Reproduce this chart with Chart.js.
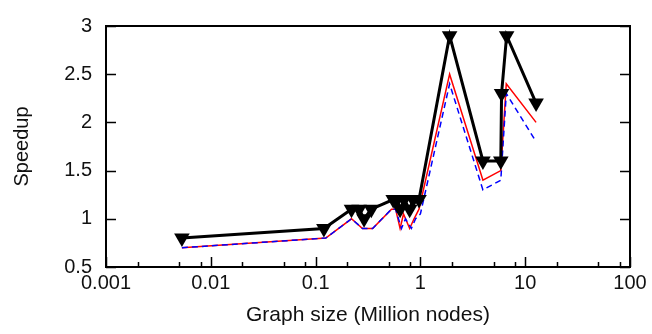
<!DOCTYPE html>
<html>
<head>
<meta charset="utf-8">
<script src="https://cdn.jsdelivr.net/npm/chart.js@4.4.1/dist/chart.umd.min.js"></script>
<style>
  html, body { margin: 0; padding: 0; background: #fff; }
</style>
</head>
<body>
<canvas id="speedup-chart" width="652" height="334"></canvas>
<script>
// graph sizes (million nodes) and speedups
const blackSizes = [0.0053, 0.12, 0.22, 0.26, 0.29, 0.34, 0.55, 0.6, 0.64, 0.7, 0.79, 0.85, 0.97, 1.9, 3.95, 5.85, 5.95, 6.65, 12.7]
const blackSpeedup = [0.8, 0.9, 1.1, 1.1, 1.0, 1.1, 1.2, 1.2, 1.1, 1.2, 1.1, 1.2, 1.2, 2.9, 1.6, 1.6, 2.3, 2.9, 2.2]

const redSizes = [0.0053, 0.125, 0.22, 0.28, 0.35, 0.53, 0.58, 0.64, 0.69, 0.79, 0.87, 0.97, 1.9, 3.95, 5.85, 6.6, 12.7]
const redSpeedup = [0.7, 0.8, 1.0, 0.9, 0.9, 1.1, 1.1, 0.9, 1.05, 0.9, 1.0, 1.1, 2.5, 1.4, 1.5, 2.4, 2.0]

const blueSizes = [0.0053, 0.125, 0.22, 0.28, 0.35, 0.53, 0.58, 0.66, 0.72, 0.82, 0.9, 1.0, 1.9, 3.95, 5.85, 6.6, 12.7]
const blueSpeedup = [0.7, 0.8, 1.0, 0.9, 0.9, 1.1, 1.1, 0.9, 1.0, 0.9, 1.0, 1.05, 2.4, 1.3, 1.4, 2.3, 1.8]

const xTicks = [0.001, 0.01, 0.1, 1, 10, 100]
const xMinorSteps = [2, 5, 8]
const yTicks = [0.5, 1, 1.5, 2, 2.5, 3]

const FONT = 'Liberation Sans, Arial, Helvetica, sans-serif'

const toPoints = (xs, ys) => xs.map((x, i) => ({ x, y: ys[i] }))

// frame + inward tick marks like the original plot
const frameTicks = {
  id: 'frameTicks',
  afterDatasetsDraw(chart) {
    const { ctx, chartArea: a, scales: { x, y } } = chart
    ctx.save()
    ctx.strokeStyle = '#000'
    ctx.lineWidth = 1.5
    ctx.beginPath()
    yTicks.forEach(v => {
      const py = Math.round(y.getPixelForValue(v)) + 0.5
      ctx.moveTo(a.left, py); ctx.lineTo(a.left + 10, py)
      ctx.moveTo(a.right, py); ctx.lineTo(a.right - 10, py)
    })
    xTicks.forEach((v, i) => {
      const px = Math.round(x.getPixelForValue(v)) + 0.5
      ctx.moveTo(px, a.bottom); ctx.lineTo(px, a.bottom - 10)
      if (i < xTicks.length - 1) {
        xMinorSteps.forEach(m => {
          const pm = Math.round(x.getPixelForValue(v * m)) + 0.5
          ctx.moveTo(pm, a.bottom); ctx.lineTo(pm, a.bottom - 5)
        })
      }
    })
    ctx.stroke()
    ctx.lineWidth = 2
    ctx.strokeRect(a.left, a.top, a.width, a.height)
    ctx.restore()
  }
}

new Chart(document.getElementById('speedup-chart'), {
  type: 'line',
  data: {
    datasets: [{
      label: 'black',
      data: toPoints(blackSizes, blackSpeedup),
      borderColor: '#000',
      backgroundColor: '#000',
      borderWidth: 3,
      pointStyle: 'triangle',
      rotation: 180,
      pointRadius: 9,
      pointBorderWidth: 0,
      tension: 0
    }, {
      label: 'blue',
      data: toPoints(blueSizes, blueSpeedup),
      borderColor: '#0000ff',
      borderWidth: 1.5,
      borderDash: [6, 4],
      pointRadius: 0,
      tension: 0
    }, {
      label: 'red',
      data: toPoints(redSizes, redSpeedup),
      borderColor: '#ff0000',
      borderWidth: 1.5,
      pointRadius: 0,
      tension: 0
    }]
  },
  options: {
    responsive: false,
    animation: false,
    clip: false,
    layout: { padding: { top: 15, right: 22, left: 0, bottom: 0 } },
    plugins: {
      legend: { display: false },
      tooltip: { enabled: false }
    },
    scales: {
      x: {
        type: 'logarithmic',
        min: 0.001,
        max: 100,
        grid: { display: false, drawTicks: false, tickLength: 0 },
        border: { display: false },
        afterBuildTicks: s => { s.ticks = xTicks.map(v => ({ value: v })) },
        afterFit: s => { s.height = 67 },
        ticks: {
          autoSkip: false,
          maxRotation: 0,
          padding: 4,
          color: '#111',
          font: { family: FONT, size: 20 },
          callback: v => String(v)
        },
        title: {
          display: true,
          text: 'Graph size (Million nodes)',
          color: '#111',
          font: { family: FONT, size: 21 },
          padding: { top: 0, bottom: 6 }
        }
      },
      y: {
        min: 0.5,
        max: 3,
        grid: { display: false, drawTicks: false, tickLength: 0 },
        border: { display: false },
        afterBuildTicks: s => { s.ticks = yTicks.map(v => ({ value: v })) },
        afterFit: s => { s.width = 106 },
        ticks: {
          padding: 14,
          color: '#111',
          font: { family: FONT, size: 20 },
          callback: v => String(v)
        },
        title: {
          display: true,
          text: 'Speedup',
          color: '#111',
          font: { family: FONT, size: 20 },
          padding: { top: 10, bottom: 0 }
        }
      }
    }
  },
  plugins: [frameTicks]
})
</script>
</body>
</html>
